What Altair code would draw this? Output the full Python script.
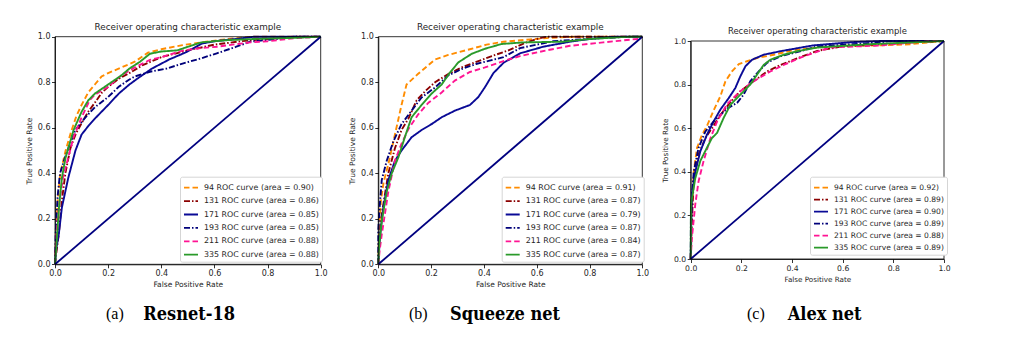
import altair as alt
import pandas as pd

W, H = 1012, 354

IDS = ["94", "131", "171", "193", "211", "335"]
AREAS_A = ["0.90", "0.86", "0.85", "0.85", "0.88", "0.88"]
AREAS_B = ["0.91", "0.87", "0.79", "0.87", "0.84", "0.87"]
AREAS_C = ["0.92", "0.89", "0.90", "0.89", "0.88", "0.89"]
COLORS = ["#ff8c00", "#8b0000", "#0a0a96", "#00007a", "#ff1493", "#2a9a2a"]
DASHES = [[5.5, 3], [6, 2, 1.5, 2], [1, 0], [6, 2, 1.5, 2], [5.5, 3], [1, 0]]
TICKS = [0.0, 0.2, 0.4, 0.6, 0.8, 1.0]

# ---- Panel (a) Resnet-18 ----
A94_F = [0, 0.005, 0.01, 0.02, 0.04, 0.06, 0.08, 0.10, 0.125, 0.15, 0.175, 0.20, 0.25, 0.30, 0.35, 0.40, 0.48, 0.55, 0.65, 0.75, 1.0]
A94_T = [0, 0.15, 0.28, 0.40, 0.50, 0.58, 0.65, 0.70, 0.755, 0.79, 0.825, 0.84, 0.865, 0.89, 0.93, 0.945, 0.963, 0.975, 0.99, 1.0, 1.0]
A131_F = [0, 0.005, 0.014, 0.026, 0.039, 0.058, 0.077, 0.10, 0.125, 0.15, 0.177, 0.20, 0.24, 0.28, 0.33, 0.40, 0.50, 0.60, 0.70, 0.80, 0.90, 1.0]
A131_T = [0, 0.05, 0.13, 0.28, 0.40, 0.51, 0.57, 0.62, 0.67, 0.71, 0.755, 0.78, 0.815, 0.84, 0.875, 0.91, 0.94, 0.965, 0.98, 0.99, 1.0, 1.0]
A171_F = [0, 0.005, 0.014, 0.026, 0.05, 0.077, 0.10, 0.127, 0.15, 0.20, 0.24, 0.28, 0.315, 0.365, 0.43, 0.49, 0.553, 0.60, 0.68, 0.75, 1.0]
A171_T = [0, 0.07, 0.13, 0.25, 0.38, 0.50, 0.57, 0.61, 0.64, 0.70, 0.75, 0.79, 0.82, 0.86, 0.90, 0.93, 0.97, 0.98, 0.99, 1.0, 1.0]
A193_F = [0, 0.003, 0.01, 0.019, 0.035, 0.05, 0.077, 0.114, 0.15, 0.20, 0.24, 0.277, 0.30, 0.357, 0.42, 0.483, 0.55, 0.609, 0.68, 0.734, 0.834, 0.90, 1.0]
A193_T = [0, 0.15, 0.30, 0.40, 0.46, 0.51, 0.59, 0.645, 0.69, 0.735, 0.78, 0.81, 0.825, 0.846, 0.86, 0.883, 0.905, 0.927, 0.955, 0.978, 0.99, 1.0, 1.0]
A211_F = [0, 0.005, 0.01, 0.02, 0.03, 0.05, 0.07, 0.10, 0.13, 0.15, 0.20, 0.25, 0.30, 0.357, 0.40, 0.483, 0.55, 0.61, 0.734, 0.80, 0.898, 1.0]
A211_T = [0, 0.12, 0.20, 0.30, 0.38, 0.47, 0.56, 0.645, 0.72, 0.745, 0.78, 0.83, 0.865, 0.898, 0.91, 0.94, 0.95, 0.956, 0.975, 0.98, 0.993, 1.0]
A335_F = [0, 0.005, 0.015, 0.026, 0.04, 0.05, 0.07, 0.10, 0.125, 0.15, 0.20, 0.25, 0.28, 0.32, 0.357, 0.40, 0.46, 0.55, 0.65, 0.75, 0.90, 1.0]
A335_T = [0, 0.08, 0.25, 0.38, 0.47, 0.51, 0.59, 0.67, 0.72, 0.75, 0.79, 0.83, 0.86, 0.89, 0.925, 0.935, 0.94, 0.975, 0.985, 0.99, 0.995, 1.0]

# ---- Panel (b) Squeeze net ----
B94_F = [0, 0.003, 0.01, 0.02, 0.038, 0.063, 0.088, 0.107, 0.15, 0.215, 0.265, 0.347, 0.41, 0.474, 0.575, 0.65, 0.75, 1.0]
B94_T = [0, 0.15, 0.28, 0.36, 0.44, 0.57, 0.70, 0.79, 0.836, 0.90, 0.92, 0.945, 0.965, 0.978, 0.988, 0.995, 1.0, 1.0]
B131_F = [0, 0.003, 0.013, 0.038, 0.063, 0.088, 0.114, 0.145, 0.177, 0.215, 0.265, 0.316, 0.366, 0.43, 0.493, 0.55, 0.60, 0.638, 1.0]
B131_T = [0, 0.10, 0.22, 0.40, 0.51, 0.59, 0.64, 0.72, 0.76, 0.80, 0.836, 0.865, 0.887, 0.915, 0.94, 0.97, 0.99, 1.0, 1.0]
B171_F = [0, 0.003, 0.007, 0.019, 0.038, 0.063, 0.088, 0.126, 0.164, 0.202, 0.24, 0.29, 0.347, 0.379, 0.405, 0.436, 0.474, 0.537, 0.625, 0.726, 0.80, 0.90, 1.0]
B171_T = [0, 0.06, 0.13, 0.25, 0.37, 0.455, 0.50, 0.558, 0.59, 0.616, 0.646, 0.675, 0.70, 0.735, 0.78, 0.84, 0.885, 0.927, 0.956, 0.978, 0.99, 1.0, 1.0]
B193_F = [0, 0.0, 0.005, 0.013, 0.032, 0.057, 0.088, 0.126, 0.164, 0.215, 0.265, 0.316, 0.37, 0.474, 0.537, 0.663, 0.79, 0.95, 1.0]
B193_T = [0, 0.15, 0.25, 0.37, 0.455, 0.54, 0.616, 0.675, 0.733, 0.777, 0.83, 0.858, 0.88, 0.91, 0.95, 0.98, 0.99, 1.0, 1.0]
B211_F = [0, 0.005, 0.013, 0.038, 0.063, 0.088, 0.114, 0.152, 0.19, 0.24, 0.29, 0.347, 0.404, 0.474, 0.537, 0.638, 0.726, 0.852, 0.98, 1.0]
B211_T = [0, 0.06, 0.13, 0.32, 0.455, 0.53, 0.594, 0.66, 0.71, 0.755, 0.807, 0.845, 0.865, 0.893, 0.915, 0.94, 0.96, 0.975, 0.99, 1.0]
B335_F = [0, 0.003, 0.013, 0.032, 0.051, 0.076, 0.101, 0.126, 0.164, 0.202, 0.24, 0.27, 0.303, 0.354, 0.404, 0.467, 0.55, 0.70, 0.80, 0.95, 1.0]
B335_T = [0, 0.08, 0.19, 0.32, 0.40, 0.47, 0.56, 0.646, 0.70, 0.75, 0.79, 0.84, 0.887, 0.925, 0.947, 0.968, 0.975, 0.978, 0.99, 1.0, 1.0]

# ---- Panel (c) Alex net ----
C94_F = [0, 0.004, 0.012, 0.025, 0.045, 0.064, 0.09, 0.117, 0.137, 0.163, 0.19, 0.222, 0.262, 0.328, 0.405, 0.5, 0.615, 0.75, 0.866, 0.95, 1.0]
C94_T = [0, 0.2, 0.40, 0.51, 0.57, 0.61, 0.68, 0.746, 0.815, 0.861, 0.894, 0.907, 0.922, 0.937, 0.958, 0.97, 0.978, 0.98, 0.985, 0.995, 1.0]
C131_F = [0, 0.004, 0.012, 0.031, 0.058, 0.084, 0.117, 0.157, 0.196, 0.248, 0.301, 0.354, 0.42, 0.5, 0.6, 0.75, 0.9, 1.0]
C131_T = [0, 0.15, 0.37, 0.48, 0.555, 0.60, 0.66, 0.72, 0.77, 0.815, 0.86, 0.89, 0.92, 0.955, 0.975, 0.985, 0.995, 1.0]
C171_F = [0, 0.002, 0.005, 0.018, 0.038, 0.064, 0.09, 0.117, 0.15, 0.176, 0.196, 0.216, 0.242, 0.288, 0.354, 0.484, 0.642, 0.75, 1.0]
C171_T = [0, 0.15, 0.30, 0.40, 0.494, 0.57, 0.63, 0.685, 0.738, 0.784, 0.838, 0.884, 0.914, 0.937, 0.953, 0.98, 0.995, 1.0, 1.0]
C193_F = [0, 0.001, 0.012, 0.031, 0.058, 0.09, 0.117, 0.143, 0.183, 0.209, 0.235, 0.268, 0.301, 0.354, 0.406, 0.5, 0.7, 0.8, 1.0]
C193_T = [0, 0.22, 0.40, 0.51, 0.585, 0.63, 0.66, 0.69, 0.716, 0.754, 0.815, 0.86, 0.90, 0.93, 0.945, 0.975, 0.99, 1.0, 1.0]
C211_F = [0, 0.005, 0.018, 0.031, 0.051, 0.078, 0.104, 0.143, 0.196, 0.248, 0.314, 0.367, 0.446, 0.55, 0.75, 0.95, 1.0]
C211_T = [0, 0.10, 0.25, 0.356, 0.45, 0.555, 0.63, 0.71, 0.77, 0.815, 0.86, 0.89, 0.93, 0.97, 0.98, 1.0, 1.0]
C335_F = [0, 0.001, 0.018, 0.038, 0.064, 0.084, 0.104, 0.13, 0.157, 0.196, 0.235, 0.262, 0.288, 0.314, 0.367, 0.42, 0.5, 0.7, 1.0]
C335_T = [0, 0.25, 0.37, 0.45, 0.51, 0.555, 0.578, 0.647, 0.708, 0.754, 0.80, 0.846, 0.89, 0.914, 0.937, 0.953, 0.97, 0.985, 1.0]

DIAG = [0.0, 1.0]
TITLE = "Receiver operating characteristic example"
CAPTION_TAGS = ["(a)", "(b)", "(c)"]
CAPTION_NAMES = ["Resnet-18", "Squeeze net", "Alex net"]

TXT = "#262626"
SANS = "DejaVu Sans"


def panel(areas, curves, xr, yr, lx, ly, fs, rowpad, tfs, afs):
    labels = [f"{i} ROC curve (area = {a})" for i, a in zip(IDS, areas)]
    rows = []
    for lab, (fx, ty) in zip(labels, curves):
        for k, (f, t) in enumerate(zip(fx, ty)):
            rows.append({"label": lab, "fpr": f, "tpr": t, "k": k})
    df = pd.DataFrame(rows)
    diag = pd.DataFrame({"fpr": DIAG, "tpr": DIAG})
    frame = pd.DataFrame({"fpr": [0.0], "fpr2": [1.0], "tpr": [0.0], "tpr2": [1.0]})

    xs = alt.Scale(domain=[0, 1], range=xr, nice=False, zero=False)
    ys = alt.Scale(domain=[0, 1], range=yr, nice=False, zero=False)
    common = dict(values=TICKS, format=".1f", grid=False, domainColor="black", domainWidth=0.8,
                  tickColor="black", tickWidth=0.8, tickSize=3.5, labelFont=SANS,
                  labelFontSize=tfs, labelColor=TXT, labelPadding=1.5, labelFlush=False,
                  labelOverlap=False, labelBound=False, titleFont=SANS, titleFontSize=afs,
                  titleFontWeight="normal", titleColor=TXT)
    xaxis = alt.Axis(orient="bottom", offset=yr[0] - H, title="False Positive Rate",
                     titlePadding=3.5, **common)
    yaxis = alt.Axis(orient="left", offset=-xr[0], title="True Positive Rate",
                     titlePadding=4, **common)
    leg = dict(title=None, orient="none", legendX=lx, legendY=ly, symbolType="stroke",
               symbolSize=196, symbolStrokeWidth=1.8, labelFontSize=fs, labelFont=SANS,
               labelColor=TXT, fillColor="white", strokeColor="#d5d5d5", cornerRadius=2,
               padding=3, rowPadding=rowpad, labelOffset=5, labelLimit=0)

    lines = alt.Chart(df).mark_line(strokeWidth=1.9).encode(
        x=alt.X("fpr:Q", scale=xs, axis=xaxis),
        y=alt.Y("tpr:Q", scale=ys, axis=yaxis),
        color=alt.Color("label:N", sort=labels,
                        scale=alt.Scale(domain=labels, range=COLORS), legend=alt.Legend(**leg)),
        strokeDash=alt.StrokeDash("label:N", sort=labels,
                                  scale=alt.Scale(domain=labels, range=DASHES),
                                  legend=alt.Legend(**leg)),
        order="k:Q",
    )
    diag_line = alt.Chart(diag).mark_line(color="#000080", strokeWidth=1.8).encode(
        x=alt.X("fpr:Q", scale=xs, axis=xaxis),
        y=alt.Y("tpr:Q", scale=ys, axis=yaxis),
    )
    box = alt.Chart(frame).mark_rect(fillOpacity=0, stroke="black", strokeWidth=0.8).encode(
        x=alt.X("fpr:Q", scale=xs, axis=xaxis), x2="fpr2:Q",
        y=alt.Y("tpr:Q", scale=ys, axis=yaxis), y2="tpr2:Q",
    )
    return alt.layer(lines, diag_line, box)


DUMMY = pd.DataFrame({"d": [0]})


def text(s, x, y, size, font, weight="normal", align="center"):
    return alt.Chart(DUMMY).mark_text(
        text=s, fontSize=size, font=font, fontWeight=weight, align=align,
        baseline="alphabetic", color=TXT if font == SANS else "black",
    ).encode(x=alt.value(x), y=alt.value(y))


pa = panel(AREAS_A, [(A94_F, A94_T), (A131_F, A131_T), (A171_F, A171_T), (A193_F, A193_T),
                     (A211_F, A211_T), (A335_F, A335_T)],
           [55, 320.7], [264.3, 36.7], 180, 176.7, 7.9, 1.4, 8.0, 7.5)
pb = panel(AREAS_B, [(B94_F, B94_T), (B131_F, B131_T), (B171_F, B171_T), (B193_F, B193_T),
                     (B211_F, B211_T), (B335_F, B335_T)],
           [378.3, 642.3], [264.3, 36.7], 501.7, 176.7, 7.9, 1.4, 8.0, 7.5)
pc = panel(AREAS_C, [(C94_F, C94_T), (C131_F, C131_T), (C171_F, C171_T), (C193_F, C193_T),
                     (C211_F, C211_T), (C335_F, C335_T)],
           [690.7, 944], [259, 41], 810, 176.7, 7.55, 0.0, 7.7, 7.2)

annotations = [
    text(TITLE, 187.9, 29.5, 8.8, SANS),
    text(TITLE, 510.3, 29.5, 8.8, SANS),
    text(TITLE, 817.4, 34.3, 8.45, SANS),
    text(CAPTION_TAGS[0], 106, 319, 16, "Liberation Serif", align="left"),
    text(CAPTION_NAMES[0], 143.3, 320, 18, "DejaVu Serif Condensed", weight="bold", align="left"),
    text(CAPTION_TAGS[1], 409, 319, 16, "Liberation Serif", align="left"),
    text(CAPTION_NAMES[1], 450, 320, 18, "DejaVu Serif Condensed", weight="bold", align="left"),
    text(CAPTION_TAGS[2], 747, 319, 16, "Liberation Serif", align="left"),
    text(CAPTION_NAMES[2], 787.7, 320, 18, "DejaVu Serif Condensed", weight="bold", align="left"),
]

chart = alt.layer(pa, pb, pc, *annotations).resolve_scale(
    x="independent", y="independent", color="independent", strokeDash="independent"
).resolve_axis(x="independent", y="independent").resolve_legend(
    color="independent", strokeDash="independent"
).properties(
    width=W, height=H, padding=0, autosize=alt.AutoSizeParams(type="none"),
    background="white",
).configure_view(stroke=None)

chart.save("out.html", embed_options={"renderer": "svg", "actions": False})
